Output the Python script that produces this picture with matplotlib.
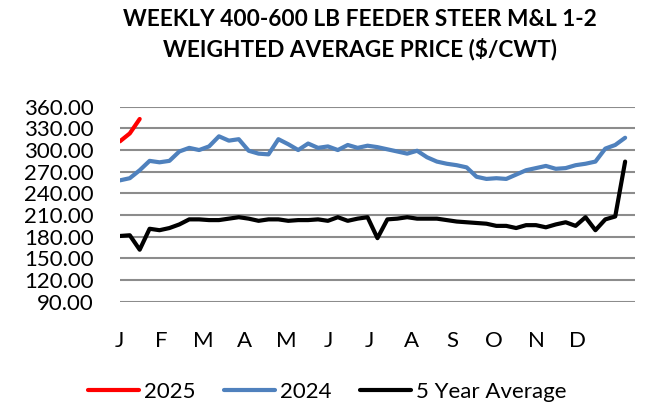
import numpy as np
import matplotlib.pyplot as plt

plt.rcParams['font.family'] = ['Lato', 'DejaVu Sans']

# weekly prices, $/cwt
price_2025 = [312, 323, 343]
price_2024 = [258, 261, 272, 285, 283, 285, 298, 303, 300, 305,
              319, 313, 315, 299, 295, 294, 315, 308, 300, 309,
              303, 305, 300, 307, 303, 306, 304, 301, 298, 295,
              299, 290, 284, 281, 279, 276, 263, 260, 261, 260,
              266, 272, 275, 278, 274, 275, 279, 281, 284, 302,
              307, 317]
avg_5yr = [181, 182, 162, 191, 189, 192, 197, 204, 204, 203,
           203, 205, 207, 205, 202, 204, 204, 202, 203, 203,
           204, 202, 207, 202, 205, 207, 178, 204, 205, 207,
           205, 205, 205, 203, 201, 200, 199, 198, 195, 195,
           192, 196, 196, 193, 197, 200, 195, 207, 189, 204,
           208, 284]
months = ['J', 'F', 'M', 'A', 'M', 'J', 'J', 'A', 'S', 'O', 'N', 'D']
y_ticks = np.arange(90, 361, 30)

fig = plt.figure(figsize=(6.48, 4.08), dpi=100)
ax = fig.add_axes([0.185, 0.2605, 0.795, 0.478])

lw = 3.0
ax.plot(np.arange(len(price_2025)), price_2025, color='#FF0000', lw=lw,
        solid_capstyle='round', label='2025', zorder=4)
ax.plot(np.arange(len(price_2024)), price_2024, color='#4F81BD', lw=lw,
        solid_capstyle='round', label='2024', zorder=3)
ax.plot(np.arange(len(avg_5yr)), avg_5yr, color='black', lw=lw,
        solid_capstyle='round', label='5 Year Average', zorder=3)

ax.set_xlim(0, 52)
ax.set_ylim(90, 360)
ax.set_yticks(y_ticks)
ax.set_yticklabels(['%.2f' % v for v in y_ticks])
ax.set_xticks(np.arange(12) * 4.2)
ax.set_xticklabels(months)
ax.tick_params(axis='y', length=0, pad=19, labelsize=16)
ax.tick_params(axis='x', length=0, pad=21, labelsize=16)
ax.grid(axis='y', color='#8C8C8C', lw=1.5)
ax.set_axisbelow(True)
for s in ax.spines.values():
    s.set_visible(False)

fig.text(0.556, 0.978, 'WEEKLY 400-600 LB FEEDER STEER M&L 1-2\nWEIGHTED AVERAGE PRICE ($/CWT)',
         ha='center', va='top', fontsize=16.3, fontweight='bold', linespacing=1.4)

fig.legend(loc='center', bbox_to_anchor=(0.505, 0.04), ncol=3, frameon=False,
           fontsize=16, handlelength=2.3, handletextpad=0.2, columnspacing=1.3)

plt.savefig('out.png', dpi=100)
